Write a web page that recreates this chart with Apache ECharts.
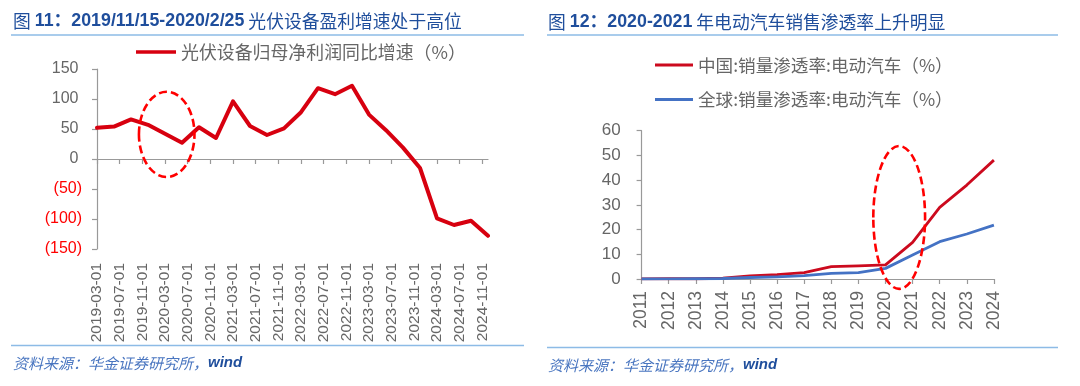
<!DOCTYPE html>
<html><head><meta charset="utf-8">
<script src="https://cdn.jsdelivr.net/npm/echarts@6/dist/echarts.min.js"></script>
<style>html,body{margin:0;padding:0;background:#fff}#c{width:1080px;height:386px}</style>
</head><body><div id="c"></div>
<script>
// ---------- Left chart data (quarterly) ----------
const quarterDates = ['2019-03-01','2019-06-01','2019-09-01','2019-12-01','2020-03-01','2020-06-01','2020-09-01','2020-12-01','2021-03-01','2021-06-01','2021-09-01','2021-12-01','2022-03-01','2022-06-01','2022-09-01','2022-12-01','2023-03-01','2023-06-01','2023-09-01','2023-12-01','2024-03-01','2024-06-01','2024-09-01','2024-12-01'];
const pvProfitGrowth = [52,54,66,57,42,27,53,35,96,55,40,51,78,118,108,122,74,48,19,-15,-99,-110,-103,-128];
const leftTickLabels = ['2019-03-01','2019-07-01','2019-11-01','2020-03-01','2020-07-01','2020-11-01','2021-03-01','2021-07-01','2021-11-01','2022-03-01','2022-07-01','2022-11-01','2023-03-01','2023-07-01','2023-11-01','2024-03-01','2024-07-01','2024-11-01'];
const leftYTicks = [-150,-100,-50,0,50,100,150];
const leftSeriesName = '光伏设备归母净利润同比增速（%）';

// ---------- Right chart data (yearly) ----------
const years = ['2011','2012','2013','2014','2015','2016','2017','2018','2019','2020','2021','2022','2023','2024'];
const chinaEVPenetration = [0.05,0.1,0.1,0.3,1.3,1.8,2.6,5.0,5.3,5.7,14.8,29.0,38.0,48.1];
const globalEVPenetration = [0.0,0.05,0.1,0.2,0.6,0.9,1.4,2.3,2.6,4.3,9.7,15.1,18.2,21.8];
const rightYTicks = [0,10,20,30,40,50,60];
const chinaName = '中国:销量渗透率:电动汽车（%）';
const globalName = '全球:销量渗透率:电动汽车（%）';

// annotation ellipses (category index / value bounds)
const leftFocus = {xFrom: 7.4, xTo: 17.2, yFrom: -30, yTo: 112};
const rightFocus = {xFrom: 8.55, xTo: 10.46, yFrom: -4, yTo: 53.8};

// month categories for the date-like axis
const months = [];
(function(){
  const [sy, sm] = quarterDates[0].split('-').map(Number);
  const [ey, em] = quarterDates[quarterDates.length-1].split('-').map(Number);
  let y = sy, m = sm;
  while (y < ey || (y === ey && m <= em)) {
    months.push(y + '-' + String(m).padStart(2,'0') + '-01');
    m++; if (m > 12) { m = 1; y++; }
  }
})();

const LAT = '"Liberation Sans", Arial, "Noto Sans CJK SC", sans-serif';
const CJK = '"Noto Sans CJK SC", "Liberation Sans", sans-serif';
const GRAY = '#595959';
const LGRAY = '#666666';
const AXIS = '#999999';
const TITLE_BLUE = '#1f4e9c';

const chart = echarts.init(document.getElementById('c'), null, {renderer: 'canvas'});

const titleRich = {
  r: {fontFamily: CJK, fontWeight: 'normal', fontSize: 17.8, color: TITLE_BLUE, lineHeight: 22},
  b: {fontFamily: LAT, fontWeight: 'bold', fontSize: 17.8, color: TITLE_BLUE, lineHeight: 22}
};
const srcRich = {
  a: {fontFamily: CJK, fontStyle: 'italic', fontWeight: 'normal', fontSize: 15, color: '#4a76c0', lineHeight: 18},
  b: {fontFamily: LAT, fontStyle: 'italic', fontWeight: 'bold', fontSize: 15, color: TITLE_BLUE, lineHeight: 18}
};

const option = {
  animation: false,
  backgroundColor: '#fff',
  title: [
    {left: 13, top: 10, padding: 0,
     text: '{r|图 }{b|11：2019/11/15-2020/2/25}{r| 光伏设备盈利增速处于高位}',
     textStyle: {fontWeight: 'normal', rich: titleRich}},
    {left: 548, top: 11, padding: 0,
     text: '{r|图 }{b|12：2020-2021}{r| 年电动汽车销售渗透率上升明显}',
     textStyle: {fontWeight: 'normal', rich: titleRich}},
    {left: 13, top: 354, padding: 0,
     text: '{a|资料来源：华金证券研究所，}{b|wind}',
     textStyle: {fontWeight: 'normal', rich: srcRich}},
    {left: 548, top: 356, padding: 0,
     text: '{a|资料来源：华金证券研究所，}{b|wind}',
     textStyle: {fontWeight: 'normal', rich: srcRich}}
  ],
  legend: [
    {left: 136, top: 42, padding: 0, icon: 'rect', itemWidth: 40, itemHeight: 3.5,
     data: [leftSeriesName],
     textStyle: {fontFamily: CJK, fontSize: 17.9, color: LGRAY, lineHeight: 20}},
    {left: 655, top: 55, padding: 0, orient: 'vertical', icon: 'rect', itemWidth: 38, itemHeight: 3,
     itemGap: 14.5, data: [chinaName, globalName],
     textStyle: {fontFamily: CJK, fontSize: 17.6, color: LGRAY, lineHeight: 20}}
  ],
  grid: [
    {left: 97, top: 69, width: 391, height: 180, containLabel: false, outerBoundsMode: 'none'},
    {left: 641.6, top: 130.7, width: 352.3, height: 148.3, containLabel: false, outerBoundsMode: 'none'}
  ],
  xAxis: [
    { // labels at bottom
      gridIndex: 0, type: 'category', data: months, boundaryGap: false, position: 'bottom',
      axisLine: {show: false, onZero: false}, axisTick: {show: false}, splitLine: {show: false},
      axisLabel: {interval: 3, rotate: 90, margin: 14, fontFamily: LAT, fontSize: 15.5, color: LGRAY,
        formatter: (v, i) => leftTickLabels[i / 4] !== undefined ? leftTickLabels[i / 4] : v}
    },
    { // axis line on zero with ticks
      gridIndex: 0, type: 'category', data: months, boundaryGap: false, position: 'bottom',
      axisLine: {show: true, onZero: true, onZeroAxisIndex: 0, lineStyle: {color: AXIS, width: 1.2}},
      axisTick: {show: true, interval: 3, length: 5, inside: false, lineStyle: {color: AXIS, width: 1.2}},
      axisLabel: {show: false}, splitLine: {show: false}
    },
    {
      gridIndex: 1, type: 'category', data: years, boundaryGap: false,
      axisLine: {show: true, lineStyle: {color: AXIS, width: 1.2}},
      axisTick: {show: true, interval: 0, length: 5, inside: false, alignWithLabel: true, lineStyle: {color: AXIS, width: 1.2}},
      axisLabel: {interval: 0, rotate: 90, margin: 12, fontFamily: LAT, fontSize: 17.5, color: LGRAY},
      splitLine: {show: false}
    }
  ],
  yAxis: [
    {
      gridIndex: 0, type: 'value', min: leftYTicks[0], max: leftYTicks[leftYTicks.length-1], interval: 50,
      axisLine: {show: true, onZero: false, lineStyle: {color: AXIS, width: 1.2}},
      axisTick: {show: true, length: 5, inside: false, lineStyle: {color: AXIS, width: 1.2}},
      splitLine: {show: false},
      axisLabel: {margin: 15,
        formatter: v => v < 0 ? '{n|(' + (-v) + ')}' : '{p|' + v + '}',
        rich: {
          p: {fontFamily: LAT, fontSize: 16, color: LGRAY, padding: [0, 3.5, 0, 0]},
          n: {fontFamily: LAT, fontSize: 16, color: '#ff0000'}
        }}
    },
    {
      gridIndex: 1, type: 'value', min: rightYTicks[0], max: rightYTicks[rightYTicks.length-1], interval: 10,
      axisLine: {show: true, onZero: false, lineStyle: {color: AXIS, width: 1.2}},
      axisTick: {show: true, length: 5, inside: false, lineStyle: {color: AXIS, width: 1.2}},
      splitLine: {show: false},
      axisLabel: {margin: 21, fontFamily: LAT, fontSize: 17, color: LGRAY}
    }
  ],
  series: [
    {name: leftSeriesName, type: 'line', xAxisIndex: 1, yAxisIndex: 0, symbol: 'none',
     data: quarterDates.map((d, i) => [d, pvProfitGrowth[i]]),
     lineStyle: {width: 4, color: '#d7000f', join: 'round', cap: 'round'}, itemStyle: {color: '#d7000f'}, z: 3},
    {name: chinaName, type: 'line', xAxisIndex: 2, yAxisIndex: 1, symbol: 'none',
     data: chinaEVPenetration,
     lineStyle: {width: 2.8, color: '#cc0a1e', join: 'round'}, itemStyle: {color: '#cc0a1e'}, z: 3},
    {name: globalName, type: 'line', xAxisIndex: 2, yAxisIndex: 1, symbol: 'none',
     data: globalEVPenetration,
     lineStyle: {width: 2.8, color: '#4472c4', join: 'round'}, itemStyle: {color: '#4472c4'}, z: 4}
  ],
  graphic: [
    {type: 'line', id: 'ul1', shape: {x1: 11, y1: 35, x2: 524, y2: 35}, style: {stroke: '#8dbbe6', lineWidth: 1.5}},
    {type: 'line', id: 'ul2', shape: {x1: 547, y1: 35, x2: 1058, y2: 35}, style: {stroke: '#8dbbe6', lineWidth: 1.5}},
    {type: 'line', id: 'bl1', shape: {x1: 11, y1: 345.5, x2: 524, y2: 345.5}, style: {stroke: '#8dbbe6', lineWidth: 1.5}},
    {type: 'line', id: 'bl2', shape: {x1: 547, y1: 347.5, x2: 1058, y2: 347.5}, style: {stroke: '#8dbbe6', lineWidth: 1.5}}
  ]
};
chart.setOption(option);

function catPx(finder, idx, val) {
  const i0 = Math.floor(idx), f = idx - i0;
  const p0 = chart.convertToPixel(finder, [i0, val]);
  const p1 = chart.convertToPixel(finder, [i0 + 1, val]);
  return [p0[0] + f * (p1[0] - p0[0]), p0[1]];
}
function ellipseFor(id, finder, b) {
  const a = catPx(finder, b.xFrom, b.yTo);
  const c = catPx(finder, b.xTo, b.yFrom);
  return {type: 'ellipse', id: id, z: 100,
    shape: {cx: (a[0] + c[0]) / 2, cy: (a[1] + c[1]) / 2, rx: Math.abs(c[0] - a[0]) / 2, ry: Math.abs(c[1] - a[1]) / 2},
    style: {fill: 'none', stroke: '#ff0000', lineWidth: 2.6, lineDash: [8, 4]}};
}
chart.setOption({graphic: [
  ellipseFor('e1', {xAxisIndex: 1, yAxisIndex: 0}, leftFocus),
  ellipseFor('e2', {xAxisIndex: 2, yAxisIndex: 1}, rightFocus)
]});
</script></body></html>
